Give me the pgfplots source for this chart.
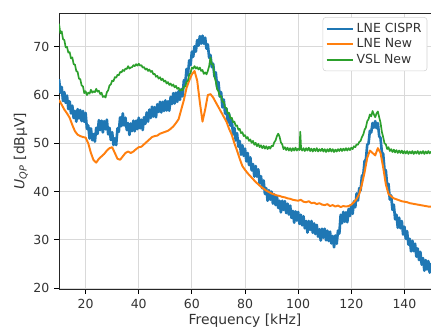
\documentclass[border=0pt]{standalone}
\usepackage{fontspec}
\setmainfont{DejaVu Sans}
\usepackage{pgfplots}
\pgfplotsset{compat=1.18}
\definecolor{mplblue}{HTML}{1F77B4}
\definecolor{mplorange}{HTML}{FF7F0E}
\definecolor{mplgreen}{HTML}{2CA02C}
\begin{document}
\begin{tikzpicture}
\begin{axis}[
  name=ax,
  scale only axis,
  width=267.8pt, height=198.7pt,
  xmin=10, xmax=150, ymin=19.8, ymax=77,
  xtick={20,40,60,80,100,120,140},
  ytick={20,30,40,50,60,70},
  tick align=outside,
  major tick length=3.5pt,
  tick style={black, line width=0.6pt},
  xtick pos=bottom, ytick pos=left,
  axis line style={black!85, line width=0.6pt},
  grid=major,
  major grid style={color=gray!30, line width=0.6pt},
  tick label style={font=\fontsize{9}{11}\selectfont, text=black!80},
  /pgf/number format/assume math mode=true,
  xlabel={Frequency [kHz]},
  ylabel={\textit{U}\textsubscript{\textit{QP}} [dBµV]},
  label style={font=\fontsize{10}{12}\selectfont, text=black!80},
  xlabel style={yshift=3pt},
  ylabel style={yshift=-3pt},
  legend style={at={(0.99,0.985)}, anchor=north east, draw=gray!35, rounded corners=2pt,
    fill=white, text=black!80, font=\fontsize{9}{11}\selectfont,
    inner sep=2pt, row sep=-1pt},
  legend cell align=left,
  clip=true,
]
\addplot[mplblue, line width=1.9pt, line join=round, forget plot] coordinates {
(10,63.3)(10.5,60.5)(11,61.7)(11.5,58.75)(12,60.6)(12.5,58.4)(13,59.9)(13.5,57.1)(14,58.7)(14.5,56.2)
(15,57.8)(15.5,55.25)(16,56.7)(16.5,54.5)(17,57.1)(17.5,55.15)(18,56.9)(18.5,54.6)(19,56.7)(19.5,54.45)
(20,56.3)(20.5,53)(21,53.7)(21.5,51)(22,53.1)(22.5,50.65)(23,51.9)(23.5,50.35)(24,53.2)(24.5,51.95)
(25,54.8)(25.5,52.75)(26,54.7)(26.5,52.25)(27,54.6)(27.5,52.9)(28,54.9)(28.5,51.85)(29,53.2)(29.5,50.7)
(30,52.3)(30.5,49.65)(31,51)(31.5,49.65)(32,53.1)(32.5,52.4)(33,55.4)(33.5,53.6)(34,56.2)(34.5,53.7)
(35,55.3)(35.5,52.75)(36,54.2)(36.5,51.75)(37,54.1)(37.5,52.55)(38,54.7)(38.5,52.5)(39,54.7)(39.5,52.95)
(40,55.3)(40.5,53.1)(41,54.9)(41.5,52.75)(42,55.4)(42.5,54.05)(43,56.4)(43.5,54.5)(44,57)(44.5,55.25)
(45,57.6)(45.5,55.55)(46,57.5)(46.5,55.4)(47,58.1)(47.5,56.5)(48,58.6)(48.5,56.4)(49,58.6)(49.5,56.7)
(50,58.9)(50.5,56.8)(51,58.7)(51.5,56.75)(52,59.6)(52.5,58.15)(53,60.4)(53.5,58.25)(54,60.5)(54.5,58.6)
(55,60.8)(55.5,59)(56,61.2)(56.5,59.75)(57,63.1)(57.5,62.4)(58,65.4)(58.5,64.1)(59,67.2)(59.5,66.2)
(60,69)(60.5,67.95)(61,70.1)(61.5,69)(62,71.4)(62.5,70.25)(63,72.2)(63.5,70.65)(64,72.3)(64.5,70.65)
(65,71.9)(65.5,69.6)(66,70.5)(66.5,67.75)(67,68.3)(67.5,65.8)(68,66.5)(68.5,63.85)(69,64.7)(69.5,61.65)
(70,62.7)(70.5,59.7)(71,60.6)(71.5,57.45)(72,59.1)(72.5,56.15)(73,57.2)(73.5,54.25)(74,56.1)(74.5,53.65)
(75,54.9)(75.5,51.85)(76,53.2)(76.5,50.6)(77,52.1)(77.5,49.3)(78,50.5)(78.5,47.65)(79,49.6)(79.5,47.4)
(80,48.9)(80.5,46.25)(81,48)(81.5,45.5)(82,47.1)(82.5,44.4)(83,45.7)(83.5,43.1)(84,45.3)(84.5,43.1)
(85,44.6)(85.5,41.7)(86,43.2)(86.5,40.7)(87,42.3)(87.5,39.5)(88,40.7)(88.5,38.1)(89,40.3)(89.5,38.3)
(90,40)(90.5,37.5)(91,39.4)(91.5,37.2)(92,39.1)(92.5,36.6)(93,38.1)(93.5,35.7)(94,38.1)(94.5,36.2)
(95,38)(95.5,35.55)(96,37.5)(96.5,35.25)(97,37.1)(97.5,34.55)(98,36)(98.5,33.55)(99,35.9)(99.5,34)
(100,35.8)(100.5,33.3)(101,35.2)(101.5,33)(102,34.9)(102.5,32.4)(103,33.9)(103.5,31.5)(104,33.9)(104.5,32.05)
(105,33.9)(105.5,31.45)(106,33.4)(106.5,31.2)(107,33.1)(107.5,30.65)(108,32.2)(108.5,29.85)(109,32.3)(109.5,30.45)
(110,32.3)(110.5,29.9)(111,31.9)(111.5,29.75)(112,31.7)(112.5,29.25)(113,30.8)(113.5,28.45)(114,30.9)(114.5,29.2)
(115,31.9)(115.5,31.3)(116,35.2)(116.5,33.45)(117,35.8)(117.5,33.75)(118,35.7)(118.5,33.65)(119,36.4)(119.5,34.95)
(120,37.2)(120.5,35.4)(121,38)(121.5,36.75)(122,39.6)(122.5,38.15)(123,40.7)(123.5,40.25)(124,43.3)(124.5,43.4)
(125,46.3)(125.5,46.65)(126,49.7)(126.5,50)(127,52.6)(127.5,52.25)(128,54.2)(128.5,53.25)(129,54.6)(129.5,53.15)
(130,54.2)(130.5,51.5)(131,51.1)(131.5,48.15)(132,47.8)(132.5,44.55)(133,44.4)(133.5,41.2)(134,41.6)(134.5,38.35)
(135,39.2)(135.5,36.2)(136,37.3)(136.5,34.25)(137,35.2)(137.5,32.5)(138,34.6)(138.5,32.4)(139,33.9)(139.5,31.1)
(140,32.7)(140.5,30.2)(141,31.8)(141.5,29)(142,30.2)(142.5,27.6)(143,29.8)(143.5,27.65)(144,29.2)(144.5,26.5)
(145,28.2)(145.5,25.8)(146,27.5)(146.5,24.85)(147,26.2)(147.5,23.6)(148,25.8)(148.5,23.85)(149,25.6)(149.5,23.2)
(150,25.2)
};
\addplot[mplorange, line width=1.4pt, line join=round, forget plot] coordinates {
(10,59)(11,58)(12,57)(13,56.2)(14,55.3)(15,53.8)(16,52.5)(17,51.8)(18,51.5)(19,51.3)
(20,51.2)(21,50)(22,48)(23,46.5)(24,46)(25,46.8)(26,47.3)(27,47.8)(28,48.5)(29,49)
(30,49.2)(31,48)(32,46.8)(33,46.6)(34,47.3)(35,48)(36,48.3)(37,48)(38,48.3)(39,48.8)
(40,49.2)(41,49.3)(42,49.8)(43,50.3)(44,50.8)(45,51.3)(46,51.5)(47,51.6)(48,52)(49,52.2)
(50,52.4)(51,52.6)(52,53)(53,53.5)(54,54.2)(55,55)(56,57)(57,59)(58,61.5)(59,63)
(60,64.3)(61,65)(62,63)(63,58.5)(64,54.5)(65,57)(66,60)(67,60.2)(68,59.5)(69,58.5)
(70,57.5)(71,56.5)(72,55.5)(73,54.5)(74,53)(75,51.8)(76,50)(77,48.5)(78,46.8)(79,45.3)
(80,44.5)(81,43.8)(82,43.2)(83,42.6)(84,42)(85,41.5)(86,41)(87,40.6)(88,40.2)(89,39.9)
(90,39.6)(91,39.4)(92,39.2)(93,39.1)(94,38.9)(95,38.8)(96,38.6)(97,38.5)(98,38.3)(99,38.2)
(100,38.1)(101,38.3)(102,37.9)(103,37.8)(104,38)(105,37.6)(106,37.7)(107,37.4)(108,37.6)(109,37.3)
(110,37.2)(111,37.4)(112,37)(113,37.2)(114,36.9)(115,37.1)(116,36.8)(117,37)(118,36.9)(119,37)
(120,37.3)(121,37.8)(122,38.5)(123,39.5)(124,41.5)(125,44)(126,47)(127,48.5)(128,48)(129,47.5)
(130,49)(131,48)(132,45)(133,41.5)(134,39.5)(135,39)(136,38.6)(137,38.4)(138,38.2)(139,38)
(140,37.9)(141,37.8)(142,37.6)(143,37.5)(144,37.4)(145,37.3)(146,37.2)(147,37.1)(148,37)(149,36.9)
(150,36.9)
};
\addplot[mplgreen, line width=1.2pt, line join=round, forget plot] coordinates {
(10,74.8)(10.5,72.8)(11,73.2)(11.5,71.6)(12,71.4)(12.5,69.9)(13,70.0)(13.5,68.8)(14,68.9)(14.5,67.6)
(15,67.8)(15.5,66.4)(16,66.3)(16.5,65.0)(17,64.8)(17.5,63.4)(18,63.3)(18.5,62.0)(19,61.8)(19.5,60.4)
(20,60.8)(20.5,60.0)(21,60.5)(21.5,60.3)(22,61.1)(22.5,60.5)(23,60.8)(23.5,60.6)(24,61.3)(24.5,60.7)
(25,60.9)(25.5,60.2)(26,60.5)(26.5,59.6)(27,59.8)(27.5,59.5)(28,60.6)(28.5,61.0)(29,62.0)(29.5,62.2)
(30,63.0)(30.5,62.9)(31,63.7)(31.5,63.6)(32,64.2)(32.5,64.1)(33,64.8)(33.5,64.7)(34,65.2)(34.5,65.0)
(35,65.5)(35.5,65.4)(36,66.0)(36.5,65.5)(37,65.7)(37.5,65.8)(38,66.2)(38.5,66.0)(39,66.4)(39.5,66.1)
(40,66.5)(40.5,66.1)(41,66.2)(41.5,65.7)(42,65.8)(42.5,65.3)(43,65.5)(43.5,65.0)(44,65.3)(44.5,64.8)
(45,65.0)(45.5,64.3)(46,64.4)(46.5,63.8)(47,64.0)(47.5,63.4)(48,63.7)(48.5,63.1)(49,63.4)(49.5,62.8)
(50,63.0)(50.5,62.4)(51,62.7)(51.5,62.1)(52,62.4)(52.5,61.9)(53,62.2)(53.5,61.6)(54,61.9)(54.5,61.3)
(55,61.5)(55.5,60.9)(56,61.2)(56.5,61.0)(57,61.7)(57.5,61.8)(58,62.7)(58.5,63.0)(59,64.2)(59.5,64.6)
(60,65.7)(60.5,65.5)(61,66.0)(61.5,65.5)(62,65.8)(62.5,65.3)(63,65.7)(63.5,65.0)(64,65.2)(64.5,64.4)
(65,64.7)(65.5,64.3)(66,65.0)(66.5,66.0)(67,67.8)(67.5,66.4)(68,66.3)(68.5,63.8)(69,62.8)(69.5,61.2)
(70,60.8)(70.5,59.7)(71,59.8)(71.5,58.6)(72,58.6)(72.5,57.4)(73,57.3)(73.5,56.2)(74,56.3)(74.5,55.2)
(75,55.3)(75.5,54.4)(76,54.5)(76.5,53.6)(77,53.7)(77.5,52.8)(78,53.0)(78.5,52.1)(79,52.3)(79.5,51.5)
(80,51.7)(80.5,51.0)(81,51.3)(81.5,50.5)(82,50.8)(82.5,50.1)(83,50.5)(83.5,49.7)(84,50.1)(84.5,49.4)
(85,49.9)(85.5,49.2)(86,49.6)(86.5,49.0)(87,49.5)(87.5,48.9)(88,49.4)(88.5,48.8)(89,49.3)(89.5,48.9)
(90,49.5)(90.5,49.4)(91,50.2)(91.5,50.6)(92,51.5)(92.5,52.0)(93,51.4)(93.5,50.2)(94,49.8)(94.5,48.8)
(95,49.2)(95.5,48.6)(96,49.1)(96.5,48.5)(97,49.0)(97.5,48.4)(98,49.0)(98.5,48.5)(99,49.1)(99.5,48.5)
(100,48.9)(100.5,48.6)(100.8,52.4)(101.1,48.9)(101.5,48.5)(102,49.0)(102.5,48.4)(103,49.0)(103.5,48.5)(104,49.1)
(104.5,48.4)(105,48.9)(105.5,48.3)(106,48.9)(106.5,48.4)(107,49.0)(107.5,48.3)(108,48.8)(108.5,48.4)(109,48.9)
(109.5,48.3)(110,48.8)(110.5,48.2)(111,48.8)(111.5,48.3)(112,48.9)(112.5,48.3)(113,48.8)(113.5,48.2)(114,48.7)
(114.5,48.3)(115,48.8)(115.5,48.4)(116,48.9)(116.5,48.4)(117,48.9)(117.5,48.5)(118,49.0)(118.5,48.5)(119,49.0)
(119.5,48.6)(120,49.1)(120.5,48.8)(121,49.4)(121.5,49.2)(122,49.8)(122.5,49.7)(123,50.3)(123.5,50.5)(124,51.3)
(124.5,51.8)(125,52.8)(125.5,53.3)(126,54.6)(126.5,55.0)(127,56.0)(127.5,55.6)(128,56.7)(128.5,56.0)(129,55.4)
(129.5,56.2)(130,56.6)(130.5,55.4)(131,54.3)(131.5,52.4)(132,51.3)(132.5,50.0)(133,49.8)(133.5,48.8)(134,49.2)
(134.5,48.4)(135,48.8)(135.5,48.2)(136,48.7)(136.5,48.1)(137,48.6)(137.5,48.0)(138,48.5)(138.5,48.0)(139,48.5)
(139.5,47.9)(140,48.4)(140.5,47.9)(141,48.4)(141.5,47.8)(142,48.3)(142.5,47.9)(143,48.4)(143.5,47.8)(144,48.3)
(144.5,47.9)(145,48.4)(145.5,47.8)(146,48.3)(146.5,47.9)(147,48.4)(147.5,47.8)(148,48.3)(148.5,47.9)(149,48.4)
(149.5,47.9)(150,48.3)
};
\addlegendimage{legend image code/.code={\draw[mplblue, line width=1.3pt] (0pt,0pt) -- (19pt,0pt);}}
\addlegendimage{legend image code/.code={\draw[mplorange, line width=1.3pt] (0pt,0pt) -- (19pt,0pt);}}
\addlegendimage{legend image code/.code={\draw[mplgreen, line width=1.3pt] (0pt,0pt) -- (19pt,0pt);}}
\legend{LNE CISPR,LNE New,VSL New}
\end{axis}
\pgfresetboundingbox
\path[use as bounding box] ([xshift=-42.5pt,yshift=-27.4pt]ax.south west) rectangle ([yshift=9.4pt]ax.north east);
\end{tikzpicture}
\end{document}
